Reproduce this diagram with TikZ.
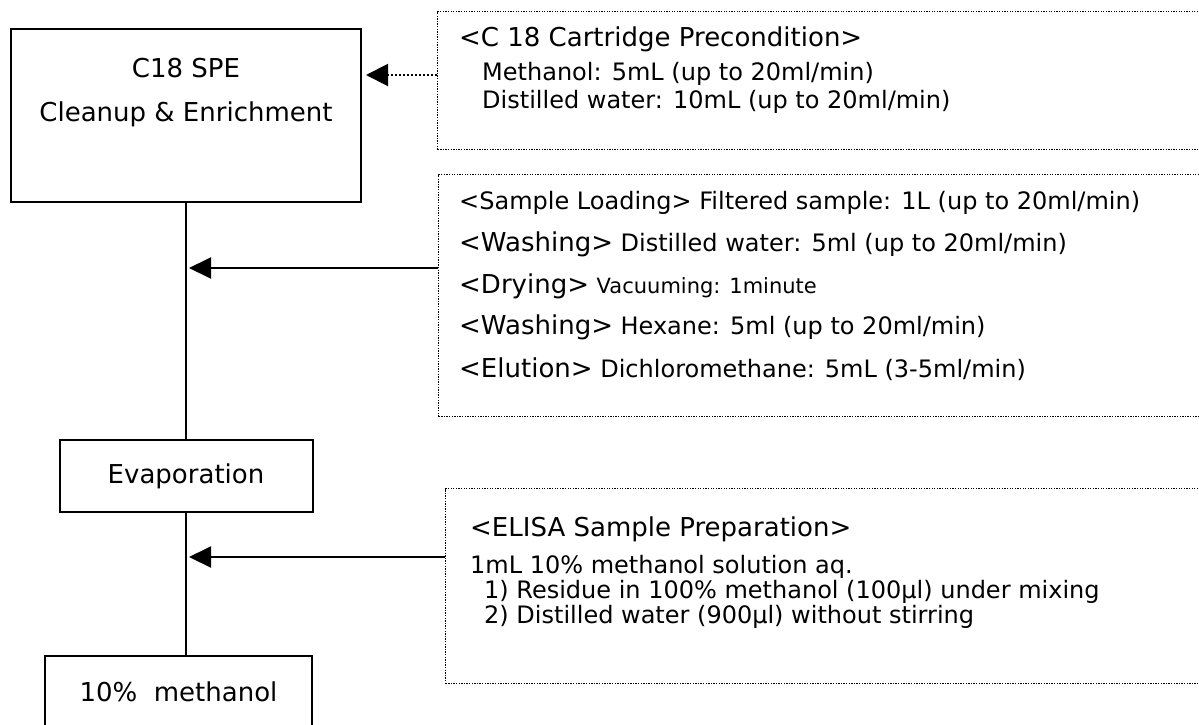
\documentclass[tikz,border=0pt]{standalone}
\usepackage{fontspec}
\setmainfont{DejaVu Sans}
\usetikzlibrary{arrows.meta}
\newcommand{\fsA}{\fontsize{26}{30}\selectfont}
\newcommand{\fsB}{\fontsize{24}{28}\selectfont}
\newcommand{\fsC}{\fontsize{21}{25}\selectfont}
\begin{document}
\begin{tikzpicture}[x=1pt,y=-1pt,
  solidbox/.style={draw, line width=2pt, inner sep=0pt, rectangle},
  notebox/.style={draw, line width=1.3pt, dash pattern=on 1.3pt off 1.3pt, inner sep=0pt, rectangle, anchor=north west},
  boxtext/.style={inner sep=0pt, anchor=base, font=\fsA},
  notetext/.style={inner sep=0pt, anchor=base west, font=\fsB},
  flow/.style={line width=2pt},
  feed/.style={line width=2pt, -{Triangle[length=22pt,width=21pt]}, shorten >=3pt},
  dotfeed/.style={line width=2pt, dash pattern=on 2pt off 2pt, -{Triangle[length=22pt,width=22pt]}, shorten >=4pt}]
\useasboundingbox (0,0) rectangle (1199,724);
\clip (0,0) rectangle (1199,724);
\fill[white] (0,0) rectangle (1199,724);

% main flow boxes
\node[solidbox, minimum width=350pt, minimum height=173pt] (spe) at (186,115.5) {};
\node[boxtext] (speA) at (186,77) {C18 SPE};
\node[boxtext] (speB) at (186,121) {Cleanup \& Enrichment};
\node[solidbox, minimum width=253pt, minimum height=72pt, font=\fsA] (evap) at (186,476) {Evaporation};
\node[solidbox, minimum width=267pt, minimum height=72pt, font=\fsA] (meth) at (178.5,692) {10\%\ \ methanol};

% note boxes
\node[notebox, minimum width=800pt, minimum height=138pt] (pre) at (437,11) {};
\node[notetext, font=\fsA] (preA) at (459,46) {<C 18 Cartridge Precondition>};
\node[notetext] (preB) at (482,80) {Methanol: 5mL (up to 20ml/min)};
\node[notetext] (preC) at (482,108) {Distilled water: 10mL (up to 20ml/min)};

\node[notebox, minimum width=800pt, minimum height=242pt] (load) at (438,174) {};
\node[notetext] (l1) at (459,209) {<Sample Loading> Filtered sample: 1L (up to 20ml/min)};
\node[notetext] (l2) at (459,251) {{\fsA<Washing>} Distilled water: 5ml (up to 20ml/min)};
\node[notetext] (l3) at (459,293) {{\fsA<Drying>} {\fsC Vacuuming: 1minute}};
\node[notetext] (l4) at (459,334) {{\fsA<Washing>} Hexane: 5ml (up to 20ml/min)};
\node[notetext] (l5) at (459,377) {{\fsA<Elution>} Dichloromethane: 5mL (3-5ml/min)};

\node[notebox, minimum width=800pt, minimum height=195pt] (elisa) at (445,488) {};
\node[notetext, font=\fsA] (e1) at (470,536) {<ELISA Sample Preparation>};
\node[notetext] (e2) at (470,573) {1mL 10\% methanol solution aq.};
\node[notetext] (e3) at (484,598) {1) Residue in 100\% methanol (100µl) under mixing};
\node[notetext] (e4) at (484,623) {2) Distilled water (900µl) without stirring};

% connectors
\draw[flow] (spe.south) -- (evap.north);
\draw[flow] (evap.south) -- (evap.south |- meth.north);
\coordinate (j0) at (0,75);
\coordinate (j1) at (186,268);
\coordinate (j2) at (186,557);
\draw[dotfeed] (pre.west |- j0) -- (spe.east |- j0);
\draw[feed] (load.west |- j1) -- (j1);
\draw[feed] (elisa.west |- j2) -- (j2);
\end{tikzpicture}
\end{document}
